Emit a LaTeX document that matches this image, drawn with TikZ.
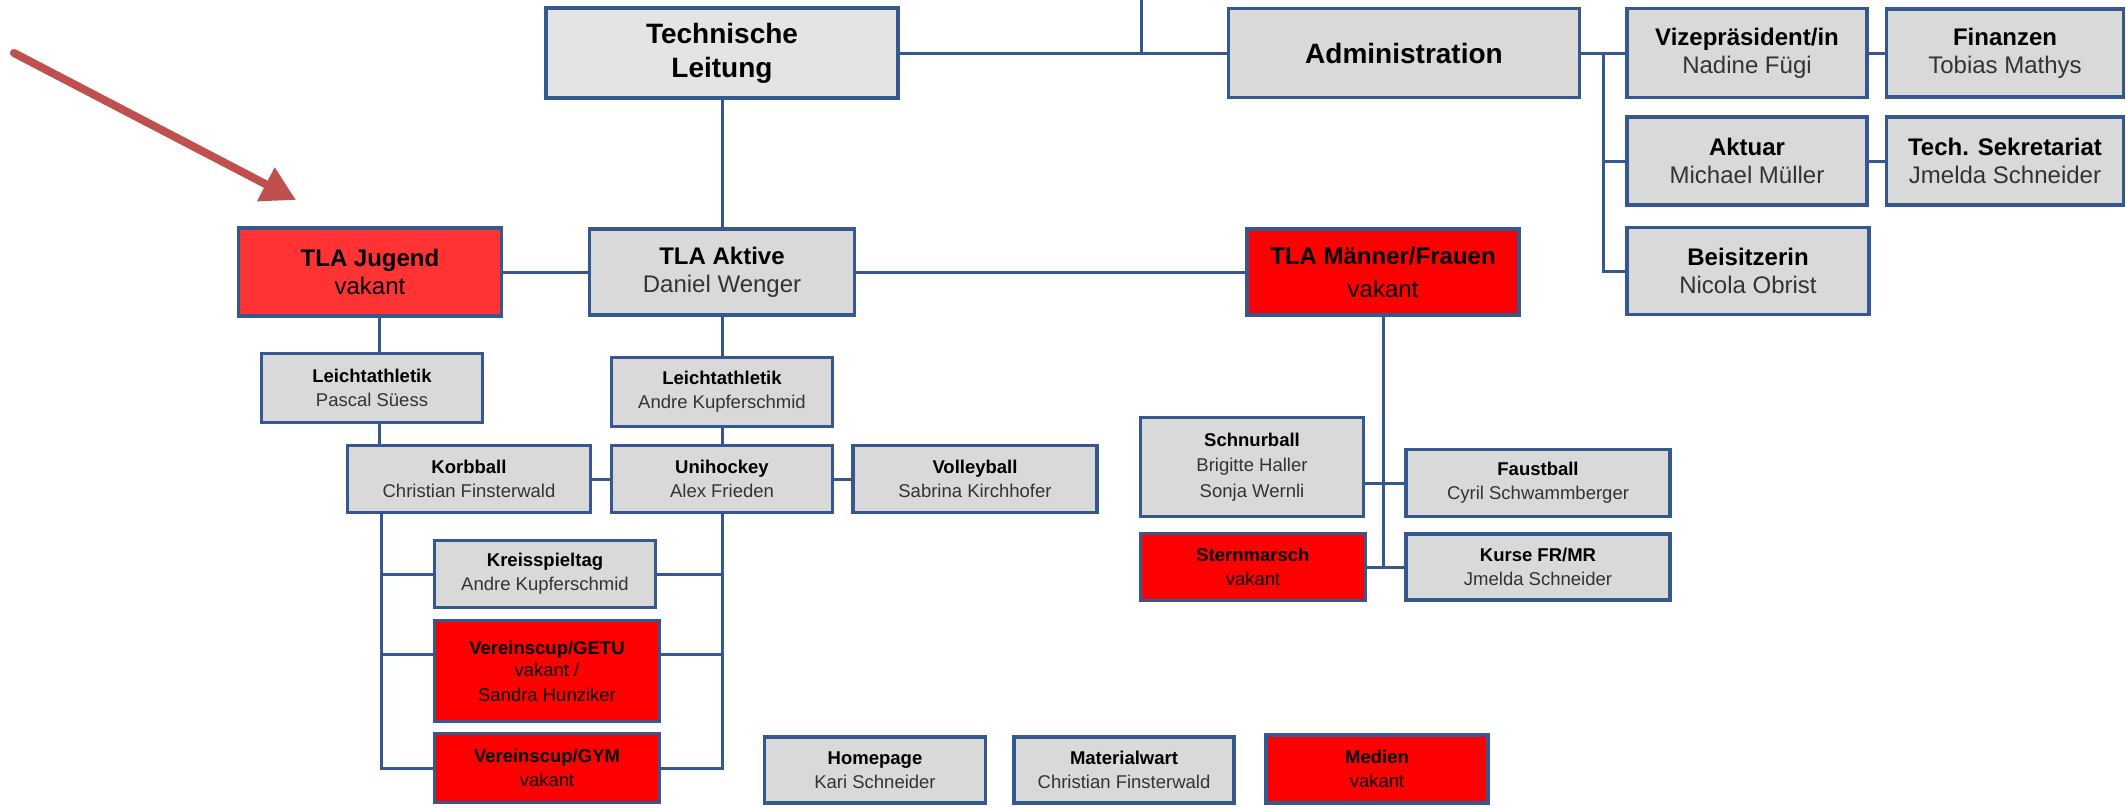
\documentclass[tikz,border=0pt]{standalone}
\usepackage{fontspec}
\setmainfont{Liberation Sans}
\usetikzlibrary{arrows.meta}

\definecolor{orgblue}{HTML}{35598F}
\definecolor{boxgray}{HTML}{D9D9D9}
\definecolor{techgray}{HTML}{E4E4E4}
\definecolor{vakred}{HTML}{FF0000}
\definecolor{jugendred}{HTML}{FF3333}
\definecolor{arrowred}{HTML}{C0504D}
\definecolor{namegray}{HTML}{333333}

\newcommand{\nm}[1]{\textcolor{namegray}{#1}}

\begin{document}
\begin{tikzpicture}[x=1pt, y=-1pt,
    orgbox/.style={draw=orgblue, line width=3.5pt, fill=boxgray, align=center, inner sep=0pt},
    bigbox/.style={orgbox, font=\fontsize{28}{34}\selectfont\bfseries},
    midbox/.style={orgbox, font=\fontsize{24}{28}\selectfont},
    smallbox/.style={orgbox, font=\fontsize{18.5}{24}\selectfont},
    link/.style={draw=orgblue, line width=3pt}]

    % Picture frame (pixel units, y runs downwards)
    \useasboundingbox (0,0) rectangle (2126,807);

    % Top row
    \node[bigbox, fill=techgray, minimum width=352pt, minimum height=90pt] (tech) at (722,53) {Technische\\Leitung};
    \node[bigbox, minimum width=351pt, minimum height=89pt] (admin) at (1404,53) {Administration};

    % Administration branch
    \node[midbox, minimum width=240pt, minimum height=89pt] (vize) at (1747,53) {\textbf{Vizepräsident/in}\\\nm{Nadine Fügi}};
    \node[midbox, minimum width=237pt, minimum height=88pt] (fin) at (2005,53) {\textbf{Finanzen}\\\nm{Tobias Mathys}};
    \node[midbox, minimum width=240pt, minimum height=88pt] (aktuar) at (1747,161) {\textbf{Aktuar}\\\nm{Michael Müller}};
    \node[midbox, minimum width=237pt, minimum height=88pt] (sekr) at (2005,161) {\textbf{Tech. Sekretariat}\\\nm{Jmelda Schneider}};
    \node[midbox, minimum width=242pt, minimum height=87pt] (beis) at (1748,271) {\textbf{Beisitzerin}\\\nm{Nicola Obrist}};

    % TLA row
    \node[midbox, fill=jugendred, minimum width=263pt, minimum height=88pt] (jugend) at (370,272) {\textbf{TLA Jugend}\\vakant};
    \node[midbox, minimum width=265pt, minimum height=86pt] (aktive) at (722,272) {\textbf{TLA Aktive}\\\nm{Daniel Wenger}};
    \node[midbox, fill=vakred, minimum width=272pt, minimum height=86pt, font=\fontsize{24}{33}\selectfont] (maenner) at (1383,272) {\textbf{TLA Männer/Frauen}\\vakant};

    % Jugend and Aktive sports
    \node[smallbox, minimum width=221pt, minimum height=69pt] (leichtj) at (372,388) {\textbf{Leichtathletik}\\\nm{Pascal Süess}};
    \node[smallbox, minimum width=221pt, minimum height=69pt] (leichta) at (722,392) {\textbf{Leichtathletik}\\\nm{Andre Kupferschmid}};
    \node[smallbox, minimum width=243pt, minimum height=67pt] (korb) at (469,479) {\textbf{Korbball}\\\nm{Christian Finsterwald}};
    \node[smallbox, minimum width=221pt, minimum height=67pt] (uni) at (722,479) {\textbf{Unihockey}\\\nm{Alex Frieden}};
    \node[smallbox, minimum width=244pt, minimum height=67pt] (volley) at (975,479) {\textbf{Volleyball}\\\nm{Sabrina Kirchhofer}};
    \node[smallbox, minimum width=221pt, minimum height=67pt] (kreis) at (545,574) {\textbf{Kreisspieltag}\\\nm{Andre Kupferschmid}};
    \node[smallbox, fill=vakred, minimum width=225pt, minimum height=101pt, font=\fontsize{18.5}{22}\selectfont] (getu) at (547,671) {\textbf{Vereinscup/GETU}\\vakant /\\[3pt]Sandra Hunziker};
    \node[smallbox, fill=vakred, minimum width=225pt, minimum height=69pt] (gym) at (547,768) {\textbf{Vereinscup/GYM}\\vakant};

    % Unconnected boxes at the bottom
    \node[smallbox, minimum width=221pt, minimum height=66pt] (home) at (875,770) {\textbf{Homepage}\\\nm{Kari Schneider}};
    \node[smallbox, minimum width=220pt, minimum height=66pt] (material) at (1124,770) {\textbf{Materialwart}\\\nm{Christian Finsterwald}};
    \node[smallbox, fill=vakred, minimum width=222pt, minimum height=68pt] (medien) at (1377,769) {\textbf{Medien}\\vakant};

    % Maenner/Frauen sports
    \node[smallbox, minimum width=223pt, minimum height=99pt, font=\fontsize{18.5}{25.5}\selectfont] (schnur) at (1252,467) {\textbf{Schnurball}\\\nm{Brigitte Haller}\\\nm{Sonja Wernli}};
    \node[smallbox, minimum width=264pt, minimum height=67pt] (faust) at (1538,483) {\textbf{Faustball}\\\nm{Cyril Schwammberger}};
    \node[smallbox, fill=vakred, minimum width=225pt, minimum height=67pt] (stern) at (1253,567) {\textbf{Sternmarsch}\\vakant};
    \node[smallbox, minimum width=264pt, minimum height=66pt] (kurse) at (1538,567) {\textbf{Kurse FR/MR}\\\nm{Jmelda Schneider}};

    % Bus positions
    \coordinate (top) at (1141,0);
    \coordinate (abus) at (1603,0);
    \coordinate (jbus) at (379,0);
    \coordinate (lbus) at (381,0);
    \coordinate (getuleft) at ([yshift=17pt]getu.west);
    \coordinate (geturight) at ([yshift=17pt]getu.east);

    % Top connections
    \draw[link] (tech.east) -- (admin.west);
    \draw[link] (top) -- (top |- tech.east);
    \draw[link] (tech.south) -- (aktive.north);

    % Administration connections
    \draw[link] (admin.east) -- (vize.west);
    \draw[link] (abus |- admin.east) -- (abus |- beis.west) -- (beis.west);
    \draw[link] (abus |- aktuar.west) -- (aktuar.west);
    \draw[link] (vize.east) -- (fin.west);
    \draw[link] (aktuar.east) -- (sekr.west);

    % TLA row connections
    \draw[link] (jugend.east) -- (aktive.west);
    \draw[link] (aktive.east) -- (maenner.west);

    % Jugend column
    \draw[link] (jbus |- jugend.south) -- (jbus |- leichtj.north);
    \draw[link] (jbus |- leichtj.south) -- (jbus |- korb.north);

    % Aktive column
    \draw[link] (aktive.south) -- (leichta.north);
    \draw[link] (leichta.south) -- (uni.north);
    \draw[link] (korb.east) -- (uni.west);
    \draw[link] (uni.east) -- (volley.west);

    % Left and right bus to the events
    \draw[link] (lbus |- korb.south) -- (lbus |- gym.west) -- (gym.west);
    \draw[link] (lbus |- kreis.west) -- (kreis.west);
    \draw[link] (lbus |- getuleft) -- (getuleft);
    \draw[link] (uni.south) -- (uni.south |- gym.east) -- (gym.east);
    \draw[link] (kreis.east) -- (uni.south |- kreis.east);
    \draw[link] (geturight) -- (uni.south |- geturight);

    % Maenner/Frauen column
    \draw[link] (maenner.south) -- (maenner.south |- kurse.west);
    \draw[link] (schnur.east |- faust.west) -- (faust.west);
    \draw[link] (stern.east) -- (kurse.west);

    % Red pointer arrow
    \coordinate (pfeilstart) at (14,53);
    \coordinate (pfeilspitze) at (296,200);
    \draw[arrowred, line width=8pt, line cap=round, -{Triangle[length=34pt,width=36pt]}] (pfeilstart) -- (pfeilspitze);

\end{tikzpicture}
\end{document}
